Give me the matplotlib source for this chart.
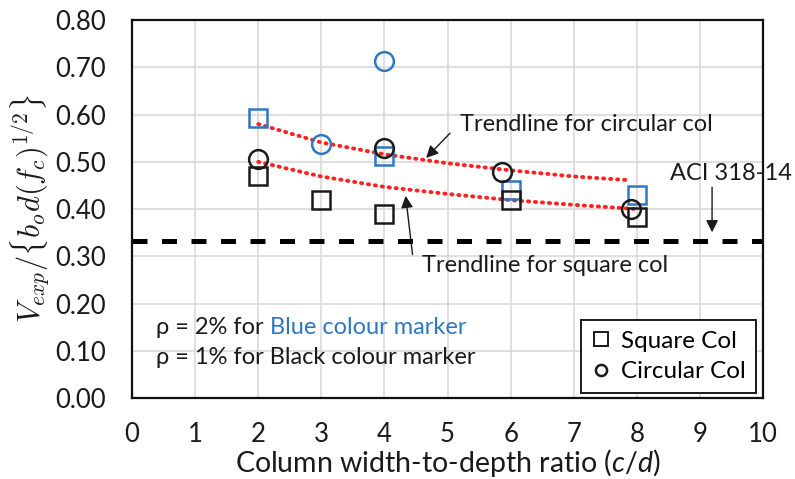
import matplotlib
matplotlib.use("Agg")
import matplotlib.pyplot as plt
from matplotlib.lines import Line2D

plt.rcParams['font.family'] = ['Lato', 'DejaVu Sans']
plt.rcParams['mathtext.fontset'] = 'custom'
plt.rcParams['mathtext.it'] = 'Lato:italic'
plt.rcParams['mathtext.rm'] = 'Lato'

BLUE = '#2e78c2'
INK = '#1a1a1a'

# measured shear ratios, split by column shape and reinforcement ratio
sq_blue_x = [2, 4, 6, 8]
sq_blue_y = [0.593, 0.512, 0.440, 0.430]
sq_black_x = [2, 3, 4, 6, 8]
sq_black_y = [0.470, 0.419, 0.389, 0.419, 0.383]
circ_blue_x = [3, 4]
circ_blue_y = [0.537, 0.713]
circ_black_x = [2, 4, 5.86, 7.9]
circ_black_y = [0.506, 0.529, 0.478, 0.400]

# trendlines (power fits)
trend_circ_x = [2, 3, 4, 5, 6, 7, 7.9]
trend_circ_y = [0.580, 0.541, 0.516, 0.497, 0.482, 0.469, 0.461]
trend_sq_x = [2, 3, 4, 5, 6, 7, 8]
trend_sq_y = [0.500, 0.469, 0.447, 0.432, 0.419, 0.409, 0.400]

aci_limit = 0.333

xticks = list(range(0, 11))
yticks = [0.0, 0.1, 0.2, 0.3, 0.4, 0.5, 0.6, 0.7, 0.8]

fig = plt.figure(figsize=(7.95, 4.79), dpi=100)
ax = fig.add_axes([0.166, 0.169, 0.794, 0.789])

ax.set_xlim(0, 10)
ax.set_ylim(0, 0.8)
ax.set_xticks(xticks)
ax.set_yticks(yticks)
ax.set_yticklabels([f"{v:.2f}" for v in yticks])
ax.tick_params(length=0, labelsize=18.5, colors=INK)
ax.tick_params(axis='y', pad=19)
ax.tick_params(axis='x', pad=17)
ax.grid(True, color='#d9d9d9', lw=1.2)
ax.set_axisbelow(True)
for s in ax.spines.values():
    s.set_linewidth(1.6)
    s.set_color('#111111')

ax.axhline(aci_limit, color='black', lw=3.6, ls=(0, (3.0, 2.9)), zorder=2)

for tx, ty in [(trend_circ_x, trend_circ_y), (trend_sq_x, trend_sq_y)]:
    ax.plot(tx, ty, color='#ff2020', lw=2.8, ls=(0, (0.3, 1.5)),
            dash_capstyle='round', zorder=3)

mk = dict(ls='none', mfc='none', mew=1.8, zorder=4)
ax.plot(sq_blue_x, sq_blue_y, marker='s', ms=13, mec=BLUE, **mk)
ax.plot(sq_black_x, sq_black_y, marker='s', ms=13, mec=INK, **mk)
ax.plot(circ_blue_x, circ_blue_y, marker='o', ms=13.5, mec=BLUE, **mk)
ax.plot(circ_black_x, circ_black_y, marker='o', ms=13.5, mec=INK, **mk)

arrow = dict(arrowstyle='-|>', color=INK, lw=1.0, mutation_scale=18)
ax.annotate('', xy=(4.63, 0.504), xytext=(5.07, 0.565), arrowprops=arrow)
ax.text(5.2, 0.578, 'Trendline for circular col', fontsize=17, va='center', ha='left', color=INK)
ax.annotate('', xy=(4.33, 0.434), xytext=(4.45, 0.298), arrowprops=arrow)
ax.text(4.6, 0.281, 'Trendline for square col', fontsize=17, va='center', ha='left', color=INK)
ax.annotate('', xy=(9.19, 0.345), xytext=(9.19, 0.452), arrowprops=arrow)
ax.text(8.53, 0.476, 'ACI 318-14', fontsize=17, va='center', ha='left', color=INK, clip_on=False)

t1 = ax.text(0.38, 0.150, 'ρ = 2% for ', fontsize=17, va='center', ha='left', color=INK)
ax.annotate('Blue colour marker', xy=(1, 0), xycoords=t1, fontsize=17, va='bottom', ha='left', color=BLUE)
ax.text(0.38, 0.085, 'ρ = 1% for Black colour marker', fontsize=17, va='center', ha='left', color=INK)

handles = [Line2D([], [], marker='s', ls='none', mfc='none', mec=INK, mew=1.4, ms=10),
           Line2D([], [], marker='o', ls='none', mfc='none', mec=INK, mew=1.8, ms=8)]
leg = ax.legend(handles, ['Square Col', 'Circular Col'], loc='lower right', fontsize=17.5,
                fancybox=False, framealpha=1, edgecolor=INK, handlelength=0.8,
                handletextpad=0.4, borderpad=0.45, labelspacing=0.4,
                borderaxespad=0.2, bbox_to_anchor=(0.997, 0.0))
leg.get_frame().set_linewidth(1.4)

ax.set_xlabel('Column width-to-depth ratio ($c/d$)', fontsize=20.5, color=INK)
ax.xaxis.set_label_coords(0.5, -0.172)
ax.xaxis.label.set_va('center')
ax.set_ylabel(r'$V_{exp}/\{b_o d(f_c)^{1/2}\}$', fontsize=22, labelpad=2,
              math_fontfamily='cm', color=INK)

fig.savefig('out.png', dpi=100)
